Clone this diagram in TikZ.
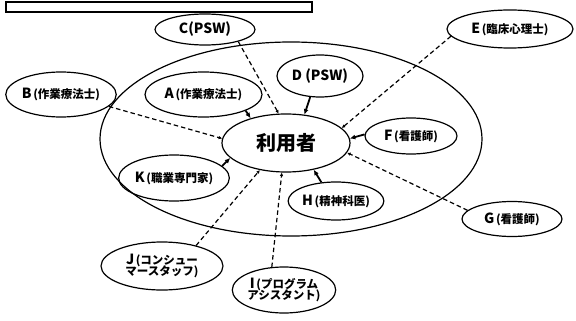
\documentclass[tikz,border=0pt]{standalone}
\usepackage{fontspec}
\setmainfont{Noto Sans CJK JP}
\usetikzlibrary{shapes.geometric,arrows.meta}
\newcommand{\lbig}[1]{{\fontsize{14}{15}\selectfont\bfseries #1}}
\newcommand{\lsml}[1]{{\fontsize{11.5}{13}\selectfont\bfseries #1}}
\newcommand{\lbl}[2]{\lbig{#1}\,\lsml{#2}}
\tikzset{
  ell/.style={draw=black,line width=1.2pt,ellipse,inner sep=0pt,align=center},
  solidarr/.style={line width=1.8pt,-{Latex[length=5.5pt,width=5pt]}},
  dasharr/.style={line width=1.2pt,dash pattern=on 4.5pt off 3pt,-{Latex[length=3.5pt,width=3.5pt]}}
}
\begin{document}
\begin{tikzpicture}[x=1pt,y=-1pt]
\useasboundingbox (0,0) rectangle (576,321);
\fill[white] (0,0) rectangle (576,321);
% top bar
\draw[line width=1.1pt] (6,2) rectangle (312,12);
% big ellipse
\draw[line width=1.2pt] (291,139) ellipse [x radius=191,y radius=97];
% nodes
\node[ell,minimum width=128,minimum height=58] (U) at (286,143) {{\fontsize{20}{21}\selectfont\bfseries 利用者}};
\node[ell,minimum width=117,minimum height=45] (A) at (203.5,94.5) {\lbl{A}{(作業療法士)}};
\node[ell,minimum width=102,minimum height=45] (B) at (61,94.5) {\lbl{B}{(作業療法士)}};
\node[ell,minimum width=100,minimum height=31] (C) at (205,29.5) {\lbig{C(PSW)}};
\node[ell,minimum width=86,minimum height=42] (D) at (320,76) {\lbig{D (PSW)}};
\node[ell,minimum width=126,minimum height=38] (E) at (510,29) {\lbl{E}{(臨床心理士)}};
\node[ell,minimum width=92,minimum height=36] (F) at (411,136) {\lbl{F}{(看護師)}};
\node[ell,minimum width=100,minimum height=35] (G) at (512,219) {\lbl{G}{(看護師)}};
\node[ell,minimum width=92,minimum height=38] (H) at (336,201) {\lbl{H}{(精神科医)}};
\node[ell,minimum width=100,minimum height=46] (K) at (174,178) {\lbl{K}{(職業専門家)}};
\node[ell,minimum width=122,minimum height=48] (J) at (162,266) {\lbig{J}\,\lsml{(コンシュー}\\[-2pt]\lsml{マースタッフ)}};
\node[ell,minimum width=102,minimum height=46] (I) at (284,290) {\lbig{I}\,\lsml{(プログラム}\\[-2pt]\lsml{アシスタント)}};
% solid arrows
\draw[solidarr] (A.-21) -- (U.145);
\draw[solidarr] (D.-115) -- (U.57);
\draw[solidarr] (F.178) -- (U.4);
\draw[solidarr] (H.128) -- (U.-44);
\draw[solidarr] (K.14) -- (U.-165);
% dashed arrows
\draw[dasharr] (C.-20) -- (U.104);
\draw[dasharr] (B.-14) -- (U.176);
\draw[dasharr] (E.-173) -- (U.15);
\draw[dasharr] (G.169) -- (U.-9);
\draw[dasharr] (J.31) -- (U.-134);
\draw[dasharr] (I.118) -- (U.-98);
\end{tikzpicture}
\end{document}
